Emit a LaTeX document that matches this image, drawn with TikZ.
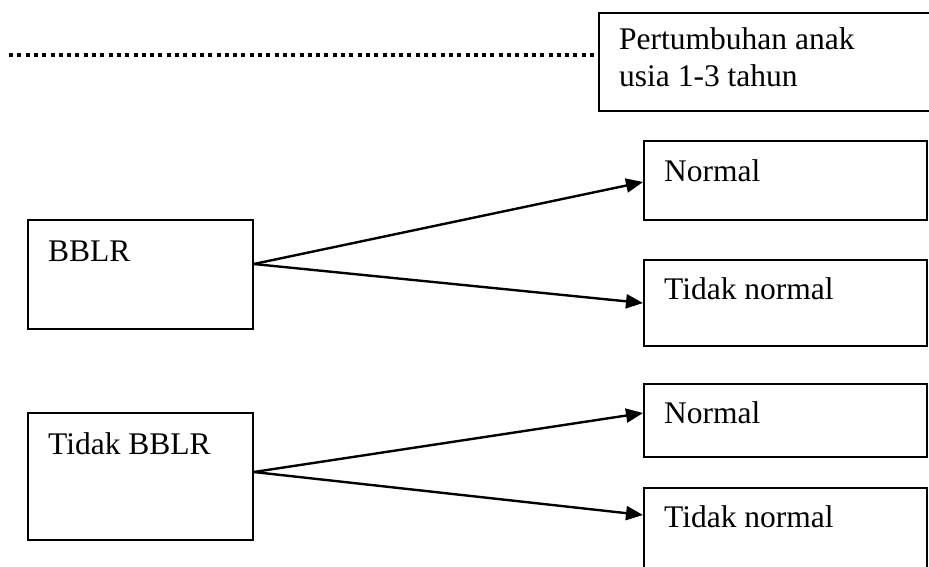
\documentclass[tikz,border=0pt]{standalone}
\usepackage{fontspec}
\setmainfont{Liberation Serif}
\usetikzlibrary{arrows.meta,calc}
\begin{document}
\begin{tikzpicture}[x=1pt,y=-1pt,
  box/.style={draw=black,line width=1.8pt,rectangle,inner sep=0pt,anchor=north west},
  lbl/.style={anchor=base west,inner sep=0pt,font=\fontsize{31.5}{37}\selectfont,align=left},
  arr/.style={line width=2.4pt,-{Triangle[length=17pt,width=14pt]}},
  dots/.style={line width=4pt,dash pattern=on 4pt off 4.3pt}]
\clip (0,0) rectangle (929,566);
\fill[white] (0,0) rectangle (929,566);
% top box
\node[box,minimum width=350pt,minimum height=98pt] (top) at (598,12) {};
\node[lbl] (toptxt) at ($(top.north west)+(21,74)$) {Pertumbuhan anak\\usia 1-3 tahun};
\coordinate (dstart) at (9,55);
\draw[dots] (dstart) -- (dstart -| top.west);
% left boxes
\node[box,minimum width=225pt,minimum height=109pt] (b1) at (27,219) {};
\node[lbl] (b1txt) at ($(b1.north west)+(21,42)$) {BBLR};
\node[box,minimum width=225pt,minimum height=127pt] (b2) at (27,412) {};
\node[lbl] (b2txt) at ($(b2.north west)+(21,42)$) {Tidak BBLR};
% right boxes
\node[box,minimum width=283pt,minimum height=79pt] (n1) at (643,140) {};
\node[lbl] (n1txt) at ($(n1.north west)+(21,41)$) {Normal};
\node[box,minimum width=283pt,minimum height=86pt] (t1) at (643,259) {};
\node[lbl] (t1txt) at ($(t1.north west)+(21,40)$) {Tidak normal};
\node[box,minimum width=283pt,minimum height=73pt] (n2) at (643,383) {};
\node[lbl] (n2txt) at ($(n2.north west)+(21,40)$) {Normal};
\node[box,minimum width=283pt,minimum height=100pt] (t2) at (643,487) {};
\node[lbl] (t2txt) at ($(t2.north west)+(21,40)$) {Tidak normal};
% arrows
\draw[arr] ($(b1.north east)+(0,45)$) -- ($(n1.north west)+(0,42)$);
\draw[arr] ($(b1.north east)+(0,45)$) -- ($(t1.north west)+(0,44)$);
\draw[arr] ($(b2.north east)+(0,60)$) -- ($(n2.north west)+(0,30)$);
\draw[arr] ($(b2.north east)+(0,60)$) -- ($(t2.north west)+(0,28)$);
\end{tikzpicture}
\end{document}
